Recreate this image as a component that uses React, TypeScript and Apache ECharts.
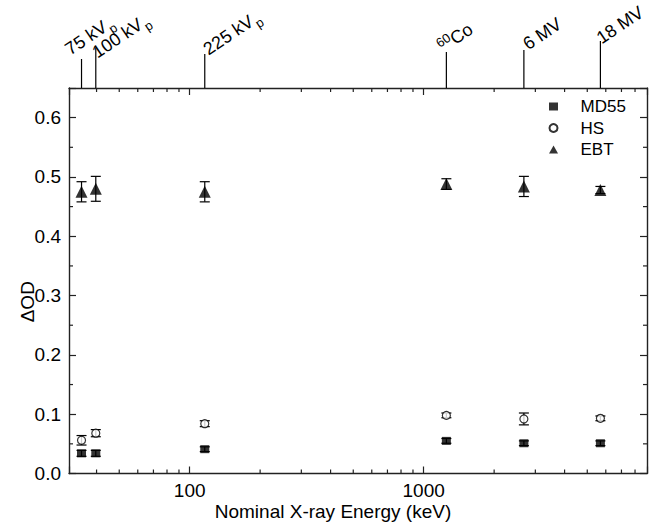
import React, { useEffect, useRef } from 'react';
import * as echarts from 'echarts';

// ---- data ----
const energies = [34.5, 39.7, 116, 1250, 2680, 5690]; // keV
const md55 = [0.034, 0.034, 0.041, 0.055, 0.051, 0.051];
const md55Err = [0.005, 0.005, 0.004, 0.004, 0.004, 0.004];
const hs = [0.056, 0.068, 0.084, 0.098, 0.092, 0.093];
const hsErr = [0.008, 0.006, 0.005, 0.004, 0.01, 0.004];
const ebt = [0.475, 0.48, 0.475, 0.488, 0.484, 0.478];
const ebtErr = [0.017, 0.021, 0.017, 0.009, 0.017, 0.006];
const sourceNames = ['75 kV', '100 kV', '225 kV', 'Co', '6 MV', '18 MV'];
const sourceSub = ['p', 'p', 'p', '', '', ''];
const sourceSup = ['', '', '', '60', '', ''];
const xMin = 30.5;
const xMax = 9000;
const yMin = 0;
const yMax = 0.65;
const xMinorTicks = [40, 50, 60, 70, 80, 90, 200, 300, 400, 500, 600, 700, 800, 900, 2000, 3000, 4000, 5000, 6000, 7000, 8000];
const yMinorTicks = [0.05, 0.15, 0.25, 0.35, 0.45, 0.55];

// ---- layout for the source annotations (stem length, text offset) ----
const annLayout = [
  { stem: 29, dx: -7, dy: 3 },
  { stem: 40, dx: 6, dy: 17 },
  { stem: 34, dx: 8, dy: 8 },
  { stem: 36, dx: 0, dy: 6 },
  { stem: 38, dx: 6, dy: 3 },
  { stem: 47, dx: 3, dy: 6 },
];

const FONT = '"Liberation Sans", Arial, Helvetica, sans-serif';
const INK = '#000';
const AXIS = '#222';
const ROT = (34 * Math.PI) / 180;

function errData(vals: number[], errs: number[]) {
  return energies.map((e, i) => [e, vals[i] - errs[i], vals[i] + errs[i]]);
}

const errRender = (params: any, api: any) => {
  const lo = api.coord([api.value(0), api.value(1)]);
  const hi = api.coord([api.value(0), api.value(2)]);
  const w = 5;
  const style = { stroke: INK, lineWidth: 1.2 };
  return {
    type: 'group',
    children: [
      { type: 'line', shape: { x1: lo[0], y1: lo[1], x2: hi[0], y2: hi[1] }, style },
      { type: 'line', shape: { x1: lo[0] - w, y1: lo[1], x2: lo[0] + w, y2: lo[1] }, style },
      { type: 'line', shape: { x1: hi[0] - w, y1: hi[1], x2: hi[0] + w, y2: hi[1] }, style },
    ],
  };
};

function annText(i: number) {
  let t = '';
  if (sourceSup[i]) t += `{u|${sourceSup[i]}}`;
  t += `{a|${sourceNames[i]}}`;
  if (sourceSub[i]) t += `{s|${sourceSub[i]}}`;
  return t;
}

export default function App() {
  const ref = useRef<HTMLDivElement>(null);
  useEffect(() => {
    if (!ref.current) return;
    const chart = echarts.init(ref.current, null, { renderer: 'svg' });
    const axisCommon = {
      type: 'log',
      logBase: 10,
      min: xMin,
      max: xMax,
      axisLine: { show: true, onZero: false, lineStyle: { color: AXIS, width: 1.4 } },
      axisTick: { show: true, inside: true, length: 7, lineStyle: { color: AXIS, width: 1.2 } },
      splitLine: { show: false },
      minorTick: { show: false },
    };
    const yCommon = {
      type: 'value',
      min: yMin,
      max: yMax,
      interval: 0.1,
      axisLine: { show: true, onZero: false, lineStyle: { color: AXIS, width: 1.4 } },
      axisTick: { show: true, inside: true, length: 7, lineStyle: { color: AXIS, width: 1.2 } },
      splitLine: { show: false },
    };
    const option: any = {
      animation: false,
      backgroundColor: '#fff',
      textStyle: { fontFamily: FONT },
      grid: { left: 69, right: 5, top: 88, bottom: 49.5, containLabel: false, outerBoundsMode: 'none' },
      legend: {
        data: ['MD55', 'HS', 'EBT'],
        orient: 'vertical',
        left: 548.5,
        top: 98,
        padding: 0,
        itemWidth: 9,
        itemHeight: 8,
        itemGap: 4.5,
        selectedMode: false,
        textStyle: { fontSize: 17, color: INK, fontFamily: FONT, padding: [0, 0, 0, 17.5] },
      },
      xAxis: [
        {
          ...axisCommon,
          position: 'bottom',
          name: 'Nominal X-ray Energy (keV)',
          nameLocation: 'middle',
          nameGap: 28,
          nameMoveOverlap: false,
          nameTextStyle: { fontSize: 19, color: INK, fontFamily: FONT, padding: [0, 50, 0, 0] },
          axisLabel: {
            show: true,
            margin: 7,
            fontSize: 19,
            color: INK,
            fontFamily: FONT,
            formatter: (v: number) => {
              const l = Math.log10(v);
              return Math.abs(l - Math.round(l)) < 1e-6 ? String(Math.round(Math.pow(10, Math.round(l)))) : '';
            },
          },
        },
        { ...axisCommon, position: 'top', axisLabel: { show: false } },
      ],
      yAxis: [
        {
          ...yCommon,
          position: 'left',
          name: 'ΔOD',
          nameLocation: 'middle',
          nameGap: 32,
          nameMoveOverlap: false,
          nameTextStyle: { fontSize: 19, color: INK, fontFamily: FONT, padding: [0, 42, 0, 0] },
          axisLabel: {
            margin: 8,
            fontSize: 19,
            color: INK,
            fontFamily: FONT,
            formatter: (v: number) => (Math.abs(v * 10 - Math.round(v * 10)) < 1e-6 ? v.toFixed(1) : ''),
          },
        },
        { ...yCommon, position: 'right', axisLabel: { show: false } },
      ],
      series: [
        {
          name: 'xMinor',
          type: 'custom',
          silent: true,
          data: xMinorTicks.map((v) => [v, yMin]),
          encode: { x: 0, y: 1 },
          renderItem: (params: any, api: any) => {
            const cs = params.coordSys;
            const p = api.coord([api.value(0), yMin]);
            const style = { stroke: AXIS, lineWidth: 1.2 };
            return {
              type: 'group',
              children: [
                { type: 'line', shape: { x1: p[0], y1: cs.y + cs.height, x2: p[0], y2: cs.y + cs.height - 4 }, style },
                { type: 'line', shape: { x1: p[0], y1: cs.y, x2: p[0], y2: cs.y + 4 }, style },
              ],
            };
          },
        },
        {
          name: 'yMinor',
          type: 'custom',
          silent: true,
          data: yMinorTicks.map((v) => [xMin, v]),
          encode: { x: 0, y: 1 },
          renderItem: (params: any, api: any) => {
            const cs = params.coordSys;
            const p = api.coord([xMin, api.value(1)]);
            const style = { stroke: AXIS, lineWidth: 1.2 };
            return {
              type: 'group',
              children: [
                { type: 'line', shape: { x1: cs.x, y1: p[1], x2: cs.x + 4, y2: p[1] }, style },
                { type: 'line', shape: { x1: cs.x + cs.width, y1: p[1], x2: cs.x + cs.width - 4, y2: p[1] }, style },
              ],
            };
          },
        },
        {
          name: 'sources',
          type: 'custom',
          silent: true,
          clip: false,
          data: energies.map((e) => [e, yMax]),
          encode: { x: 0, y: 1 },
          renderItem: (params: any, api: any) => {
            const i = params.dataIndex;
            const L = annLayout[i];
            const p = api.coord([api.value(0), yMax]);
            const x = p[0];
            const y = p[1];
            return {
              type: 'group',
              children: [
                { type: 'line', shape: { x1: x, y1: y, x2: x, y2: y - L.stem }, style: { stroke: INK, lineWidth: 1.2 } },
                {
                  type: 'text',
                  x: x + L.dx,
                  y: y - L.stem + L.dy,
                  rotation: ROT,
                  style: {
                    text: annText(i),
                    fill: INK,
                    fontFamily: FONT,
                    fontSize: 18,
                    align: 'left',
                    verticalAlign: 'bottom',
                    rich: {
                      a: { fontSize: 18, fontFamily: FONT, fill: INK },
                      s: { fontSize: 13, fontFamily: FONT, fill: INK, padding: [14, 0, 0, 1] },
                      u: { fontSize: 13, fontFamily: FONT, fill: INK, padding: [0, 0, 10, 0] },
                    },
                  },
                },
              ],
            };
          },
        },
        { name: 'MD55 err', type: 'custom', silent: true, data: errData(md55, md55Err), encode: { x: 0, y: [1, 2] }, renderItem: errRender, z: 2 },
        { name: 'HS err', type: 'custom', silent: true, data: errData(hs, hsErr), encode: { x: 0, y: [1, 2] }, renderItem: errRender, z: 2 },
        { name: 'EBT err', type: 'custom', silent: true, data: errData(ebt, ebtErr), encode: { x: 0, y: [1, 2] }, renderItem: errRender, z: 2 },
        {
          name: 'MD55',
          type: 'scatter',
          symbol: 'rect',
          symbolSize: [9, 8],
          itemStyle: { color: INK },
          data: energies.map((e, i) => [e, md55[i]]),
          z: 5,
        },
        {
          name: 'HS',
          type: 'scatter',
          symbol: 'circle',
          symbolSize: 8,
          itemStyle: { color: '#fff', borderColor: INK, borderWidth: 1.2 },
          data: energies.map((e, i) => [e, hs[i]]),
          z: 5,
        },
        {
          name: 'EBT',
          type: 'scatter',
          symbol: 'triangle',
          symbolSize: 12,
          itemStyle: { color: INK },
          data: energies.map((e, i) => [e, ebt[i]]),
          z: 5,
        },
      ],
    };
    chart.setOption(option);
    return () => chart.dispose();
  }, []);
  return <div ref={ref} style={{ position: 'absolute', left: 0, top: 0, width: 652, height: 523 }} />;
}
